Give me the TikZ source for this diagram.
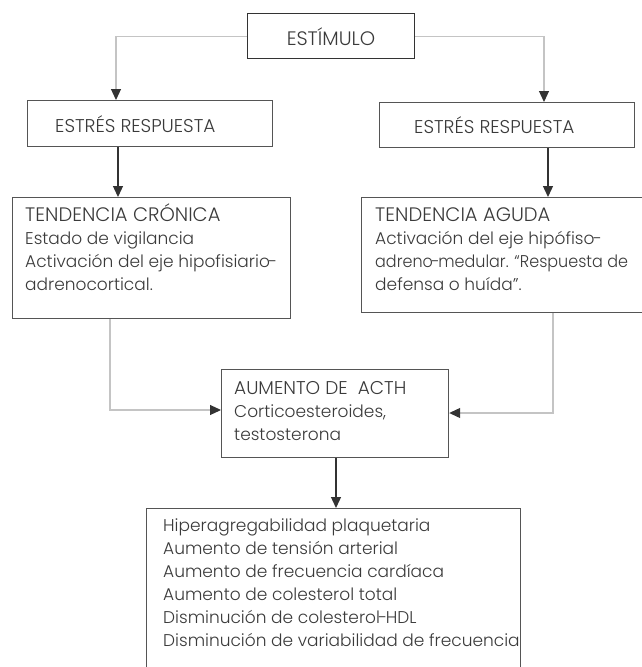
\documentclass[tikz,border=0pt]{standalone}
\usepackage{fontspec}
\setmainfont{Poppins}[UprightFont=* Light]
\usetikzlibrary{arrows.meta}
\definecolor{txt}{HTML}{3A3A3A}
\definecolor{boxc}{HTML}{555555}
\definecolor{lgray}{HTML}{C4C4C4}
\definecolor{dk}{HTML}{333333}
\newcommand{\capsz}{\fontsize{19.5}{23}\selectfont}
\newcommand{\thyph}{\kern-1.5pt-\kern-1.5pt}
\tikzset{
  box/.style={draw=boxc, line width=1.2pt, inner sep=0pt, anchor=north west},
  lbl/.style={inner sep=0pt, anchor=base west, text=txt, font=\fontsize{17}{23}\selectfont},
  garrow/.style={draw=lgray, line width=1.1pt, -{Triangle[length=11pt,width=10pt,color=dk]}},
  barrow/.style={draw=dk, line width=1.3pt, -{Triangle[length=11pt,width=10pt,color=dk]}},
}
\begin{document}
\begin{tikzpicture}[x=1pt,y=-1pt]
\useasboundingbox (0,0) rectangle (641,667);
% boxes
\node[box, draw=dk, line width=1.4pt, minimum width=167pt, minimum height=45pt] (stim) at (247,13) {};
\node[box, minimum width=245pt, minimum height=46pt] (estL) at (27,100) {};
\node[box, minimum width=255pt, minimum height=45pt] (estR) at (379,102) {};
\node[box, minimum width=278pt, minimum height=121pt] (cron) at (12,197) {};
\node[box, minimum width=284pt, minimum height=115pt] (agu) at (361,197) {};
\node[box, minimum width=227pt, minimum height=88pt] (acth) at (221,369) {};
\node[box, minimum width=374pt, minimum height=165pt] (bot) at (146,508) {};
% texts
\node[lbl, anchor=base] (tstim) at (331,45) {\capsz ESTÍMULO};
\node[lbl] (testL) at (55,132) {\fontsize{18.5}{23}\selectfont ESTRÉS RESPUESTA};
\node[lbl] (testR) at (414,133) {\fontsize{18.5}{23}\selectfont ESTRÉS RESPUESTA};
\node[lbl] (tcron) at (25,221) {\begin{tabular}[t]{@{}l@{}}{\capsz TENDENCIA CRÓNICA}\\Estado de vigilancia\\Activación del eje hipofisiario\thyph\\adrenocortical.\end{tabular}};
\node[lbl] (tagu) at (375,221) {\begin{tabular}[t]{@{}l@{}}{\capsz TENDENCIA AGUDA}\\Activación del eje hipófiso\thyph\\\scalebox{0.94}[1]{adreno\thyph medular. “Respuesta de}\\defensa o huída”.\end{tabular}};
\node[lbl] (tacth) at (234,394) {\begin{tabular}[t]{@{}l@{}}{\fontsize{18.5}{23}\selectfont AUMENTO DE~ ACTH}\\Corticoesteroides,\\testosterona\end{tabular}};
\node[lbl] (tbot) at (163,531) {\begin{tabular}[t]{@{}l@{}}Hiperagregabilidad plaquetaria\\Aumento de tensión arterial\\Aumento de frecuencia cardíaca\\Aumento de colesterol total\\Disminución de colesterol\thyph HDL\\Disminución de variabilidad de frecuencia\end{tabular}};
% coordinates for connector routes
\coordinate (xL) at (116,0);
\coordinate (xR) at (544,0);
\coordinate (xLb) at (118,0);
\coordinate (xRb) at (548,0);
\coordinate (xC) at (110,0);
\coordinate (xA) at (553,0);
\coordinate (yC) at (0,410);
\coordinate (yA) at (0,413);
\coordinate (xM) at (336,0);
% connectors
\draw[garrow] (stim.west) -| (estL.north -| xL);
\draw[garrow] (stim.east) -| (estR.north -| xR);
\draw[barrow] (estL.south -| xLb) -- (cron.north -| xLb);
\draw[barrow] (estR.south -| xRb) -- (agu.north -| xRb);
\draw[garrow] (cron.south -| xC) |- (acth.west |- yC);
\draw[garrow] (agu.south -| xA) |- (acth.east |- yA);
\draw[barrow] (acth.south -| xM) -- (bot.north -| xM);
\end{tikzpicture}
\end{document}
